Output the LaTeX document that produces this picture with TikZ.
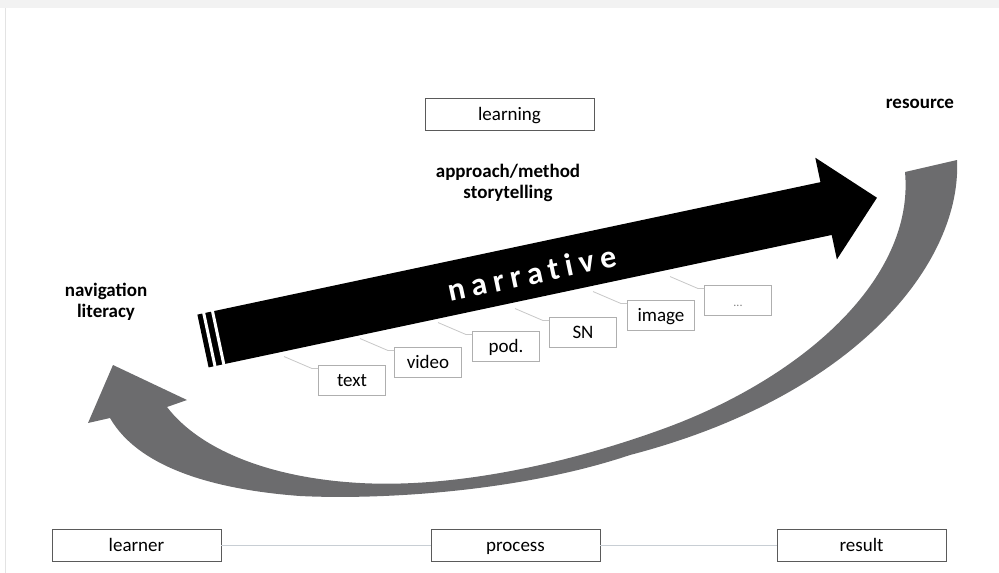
\documentclass[tikz,border=0pt]{standalone}
\usepackage{fontspec}
\setmainfont{Carlito}
\usetikzlibrary{calc}
\definecolor{swoosh}{RGB}{108,108,110}
\definecolor{boxdark}{RGB}{90,90,90}
\definecolor{boxlight}{RGB}{175,175,175}
\definecolor{leadcol}{RGB}{200,200,200}
\definecolor{linkcol}{RGB}{200,206,212}
\begin{document}
\begin{tikzpicture}[x=1pt,y=-1pt,
  font=\fontsize{19}{21}\selectfont,
  bigbox/.style={draw=boxdark, line width=0.9pt, minimum width=169, minimum height=32, inner sep=0pt, fill=white, text height=14, text depth=2},
  smallbox/.style={draw=boxlight, line width=0.9pt, minimum width=67, minimum height=30, inner sep=0pt, fill=white, text height=14, text depth=2},
  label/.style={font=\fontsize{19}{21}\selectfont\bfseries, align=center, inner sep=0pt},
  leader/.style={draw=leadcol, line width=0.8pt},
  link/.style={draw=linkcol, line width=1pt}]
\useasboundingbox (0,0) rectangle (999,573);
% page frame hints
\fill[gray!10] (0,0) rectangle (999,8);
\draw[gray!22, line width=1pt] (5,8) -- (5,573);

% gray curved return arrow
\fill[swoosh]
  (957,160) .. controls (962,260) and (860,395) .. (630,455)
  .. controls (520,492) and (380,500) .. (300,496)
  .. controls (220,490) and (140,470) .. (110,418)
  -- (88,423) -- (113,365) -- (187,400) -- (167,407)
  .. controls (200,450) and (270,478) .. (360,483)
  .. controls (450,488) and (560,466) .. (660,430)
  .. controls (800,380) and (915,280) .. (905,172)
  -- cycle;

% black narrative arrow
\begin{scope}[shift={(203,341)}, rotate=12]
  \fill[black] (0,-27) -- (637,-27) -- (637,-52) -- (689,0) -- (637,52) -- (637,27) -- (0,27) -- cycle;
  \fill[white] (5,-28) rectangle (8,28);
  \fill[white] (14,-28) rectangle (17,28);
  \node[transform shape, text=white, inner sep=0pt] (narr) at (336,2)
    {\fontsize{32}{34}\selectfont\bfseries\addfontfeature{LetterSpace=20,Ligatures=NoCommon}narrative};
\end{scope}

% top labels
\node[bigbox] (learning) at (509.5,114) {learning};
\node[label] (approach) at (508,183) {approach/method\\storytelling};
\node[label] (resource) at (920,104) {resource};
\node[label] (navig) at (106,302) {navigation\\literacy};

% media boxes
\node[smallbox] (text)  at (352,380) {text};
\node[smallbox] (video) at (428,362) {video};
\node[smallbox] (pod)   at (506,346) {pod.};
\node[smallbox] (sn)    at (583,332) {SN};
\node[smallbox] (image) at (661,315) {image};
\node[smallbox] (dots)  at (738,300) {\textcolor{gray}{\fontsize{12}{14}\selectfont ...}};
\foreach \b in {text,video,pod,sn,image,dots}{
  \draw[leader] ($(\b.north west)+(-34,-8)$) -- ($(\b.north west)+(-6,4)$) -- ($(\b.north west)+(0,4)$);
}

% bottom row
\node[bigbox] (learner) at (136.5,545) {learner};
\node[bigbox] (process) at (515.5,545) {process};
\node[bigbox] (result)  at (861.5,545) {result};
\draw[link] (learner.east) -- (process.west);
\draw[link] (process.east) -- (result.west);
\end{tikzpicture}
\end{document}
